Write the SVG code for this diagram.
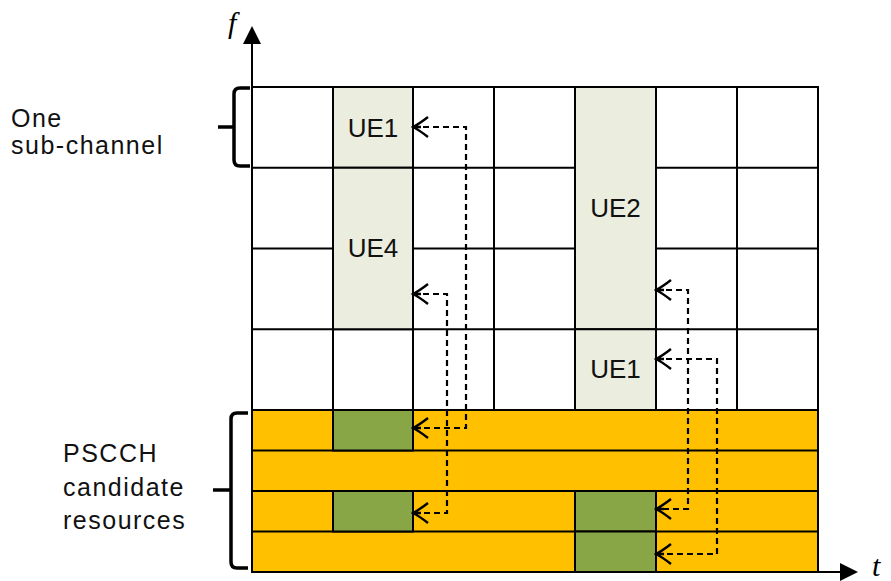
<svg xmlns="http://www.w3.org/2000/svg" width="891" height="581" viewBox="0 0 891 581">
<style>
.lbl{font-family:"Liberation Sans",Arial,sans-serif;font-size:25px;fill:#111;letter-spacing:1.5px}
.ue{font-family:"Liberation Sans",Arial,sans-serif;font-size:26px;fill:#111;text-anchor:middle}
.ax{font-family:"Liberation Serif","Times New Roman",serif;font-style:italic;font-size:30px;fill:#000}
.grid{stroke:#000;stroke-width:2;fill:none}
.ueb{fill:#EBEEDE;stroke:#000;stroke-width:2}
.gr{fill:#88A646;stroke:#000;stroke-width:2}
.dash{fill:none;stroke:#000;stroke-width:2.2;stroke-dasharray:6 4;marker-start:url(#ch);marker-end:url(#ch)}
.brace{fill:none;stroke:#000;stroke-width:3.5}
</style>
<defs>
<marker id="ch" viewBox="-18 -12 20 24" refX="0" refY="0" markerWidth="20" markerHeight="24" markerUnits="userSpaceOnUse" orient="auto-start-reverse">
<path d="M-15,-10 Q-6,-3 0,0 Q-6,3 -15,10 M0,0 L-8,0" fill="none" stroke="#000" stroke-width="2.4"/>
</marker>
<marker id="tri" viewBox="0 0 18 18" refX="0" refY="9" markerWidth="18" markerHeight="18" markerUnits="userSpaceOnUse" orient="auto">
<path d="M0,0 L18,9 L0,18 Z" fill="#000"/>
</marker>
</defs>

<g id="pscch-area">
<rect x="252" y="410" width="566" height="162" fill="#FFC000"/>
</g>

<g id="grid">
<path class="grid" d="M252,87 H818 V572 M252,167.75 H333 M413,167.75 H575 M656,167.75 H818 M252,248.5 H333 M413,248.5 H575 M656,248.5 H818 M252,329.25 H818 M252,410 H818 M252,450.5 H818 M252,491 H818 M252,531.5 H818 M252,572 H818 M333,87 V410 M413,87 V410 M494,87 V410 M575,87 V410 M656,87 V410 M737,87 V410"/>
</g>

<g id="ue1-top"><rect class="ueb" x="333" y="87" width="80" height="80.75"/><text class="ue" x="373" y="137">UE1</text></g>
<g id="ue4"><rect class="ueb" x="333" y="167.75" width="80" height="161.5"/><text class="ue" x="373" y="257">UE4</text></g>
<g id="ue2"><rect class="ueb" x="575" y="87" width="81" height="242.25"/><text class="ue" x="615.5" y="217">UE2</text></g>
<g id="ue1-bottom"><rect class="ueb" x="575" y="329.25" width="81" height="80.75"/><text class="ue" x="615.5" y="378">UE1</text></g>

<g id="pscch1"><rect class="gr" x="333" y="410" width="80" height="40.5"/></g>
<g id="pscch2"><rect class="gr" x="333" y="491" width="80" height="40.5"/></g>
<g id="pscch3"><rect class="gr" x="575" y="491" width="81" height="40.5"/></g>
<g id="pscch4"><rect class="gr" x="575" y="531.5" width="81" height="40.5"/></g>

<g id="axes">
<line x1="252" y1="573" x2="252" y2="44" stroke="#000" stroke-width="2" marker-end="url(#tri)"/>
<line x1="251" y1="572" x2="840" y2="572" stroke="#000" stroke-width="2" marker-end="url(#tri)"/>
<text class="ax" x="228" y="33">f</text>
<text class="ax" x="872" y="576">t</text>
</g>

<g id="connectors">
<path class="dash" d="M413,127 H466 V428 H413"/>
<path class="dash" d="M413,294 H447 V513 H413"/>
<path class="dash" d="M656,290 H688 V509 H656"/>
<path class="dash" d="M656,359 H717 V554 H656"/>
</g>

<g id="label-subchannel">
<path class="brace" d="M250,88 H240 Q234,88 234,94 V160 Q234,166 240,166 H250 M218,127 H234"/>
<text class="lbl" x="11" y="127">One</text>
<text class="lbl" x="11" y="154">sub-channel</text>
</g>

<g id="label-pscch">
<path class="brace" d="M248,413 H237 Q231,413 231,419 V562 Q231,568 237,568 H248 M213,490 H231"/>
<text class="lbl" x="63" y="462">PSCCH</text>
<text class="lbl" x="63" y="496">candidate</text>
<text class="lbl" x="63" y="529">resources</text>
</g>
</svg>
